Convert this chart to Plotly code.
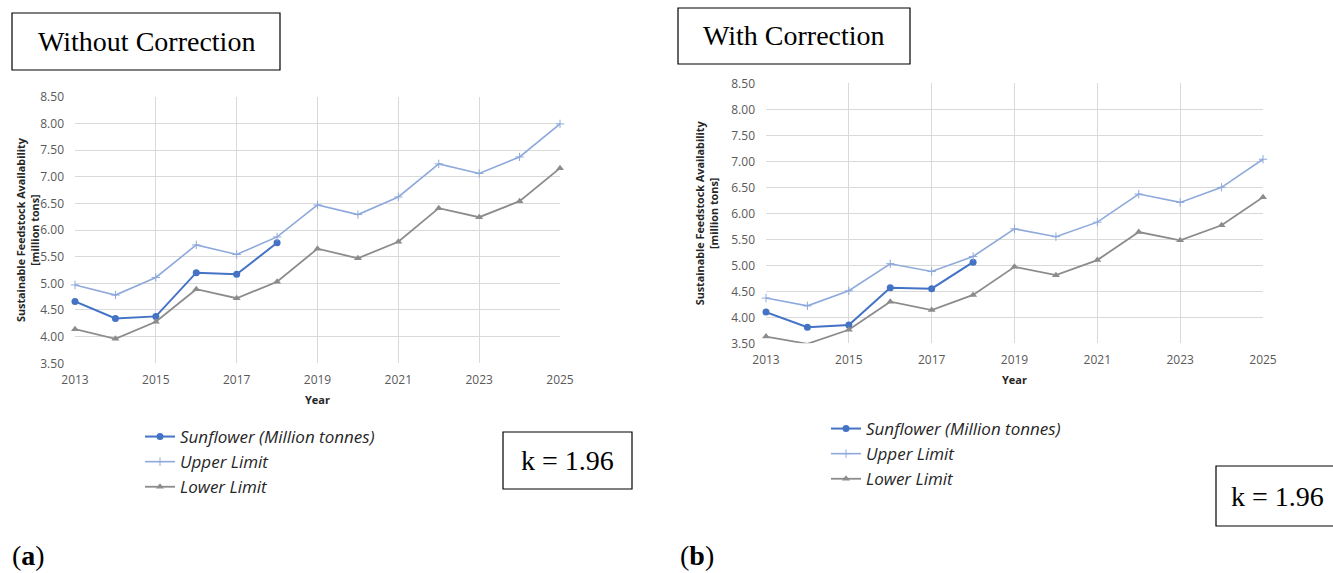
import plotly.graph_objects as go

# ---- data -------------------------------------------------------------
years = list(range(2013, 2026))
sun_years = list(range(2013, 2019))

# (a) without correction
sun_a = [4.66, 4.34, 4.38, 5.20, 5.17, 5.76]
upper_a = [4.97, 4.78, 5.11, 5.72, 5.54, 5.87, 6.47, 6.29, 6.62, 7.24, 7.06, 7.37, 7.99]
lower_a = [4.14, 3.96, 4.28, 4.89, 4.72, 5.03, 5.65, 5.47, 5.78, 6.41, 6.24, 6.54, 7.16]

# (b) with correction
sun_b = [4.10, 3.81, 3.85, 4.57, 4.55, 5.06]
upper_b = [4.37, 4.22, 4.51, 5.03, 4.88, 5.17, 5.70, 5.55, 5.83, 6.37, 6.21, 6.50, 7.04]
lower_b = [3.63, 3.49, 3.76, 4.30, 4.14, 4.43, 4.97, 4.81, 5.10, 5.64, 5.48, 5.77, 6.31]

series_names = ["Sunflower (Million tonnes)", "Upper Limit", "Lower Limit"]
y_ticks = [3.5, 4.0, 4.5, 5.0, 5.5, 6.0, 6.5, 7.0, 7.5, 8.0, 8.5]
x_ticks = [2013, 2015, 2017, 2019, 2021, 2023, 2025]
y_title = "<b>Sustainable Feedstock Availability<br>[million tons]</b>"
x_title = "<b>Year</b>"
panel_titles = ["Without Correction", "With Correction"]
k_label = "k = 1.96"
panel_tags = ["(<b>a</b>)", "(<b>b</b>)"]

W, H = 1333, 573

C_SUN = "#4472C4"
C_UP = "#8EA9DB"
C_LOW = "#8C8C8C"
GRID = "#D9D9D9"
TICK = "#595959"
SANS = "Open Sans, Noto Sans, sans-serif"
SERIF = "Liberation Serif, DejaVu Serif, serif"


def px(x):
    return x / W


def py(y):
    return 1 - y / H


fig = go.Figure()


def add_panel(idx, sun, up, low, legend_name):
    xa = "x" if idx == 0 else "x2"
    ya = "y" if idx == 0 else "y2"
    common = dict(xaxis=xa, yaxis=ya, mode="lines+markers", cliponaxis=False,
                  legend=legend_name)
    fig.add_trace(go.Scatter(x=sun_years, y=sun, name=series_names[0],
                             line=dict(color=C_SUN, width=2),
                             marker=dict(symbol="circle", size=7, color=C_SUN),
                             **common))
    fig.add_trace(go.Scatter(x=years, y=up, name=series_names[1],
                             line=dict(color=C_UP, width=1.6),
                             marker=dict(symbol="cross-thin", size=6,
                                         line=dict(color=C_UP, width=1)),
                             **common))
    fig.add_trace(go.Scatter(x=years, y=low, name=series_names[2],
                             line=dict(color=C_LOW, width=1.8),
                             marker=dict(symbol="triangle-up", size=7, color=C_LOW),
                             **common))


add_panel(0, sun_a, upper_a, lower_a, "legend")
add_panel(1, sun_b, upper_b, lower_b, "legend2")

# plot-area rectangles (pixels): left, top, right, bottom
areas = [(75, 96.7, 560, 363.3), (766, 83.3, 1263, 343.3)]


def axis_pair(area):
    l, t, r, b = area
    xaxis = dict(domain=[px(l), px(r)], range=[2013, 2025], tickvals=x_ticks,
                 showgrid=True, gridcolor=GRID, gridwidth=1.2, zeroline=False,
                 showline=False, ticks="", automargin=False, ticklabelstandoff=8,
                 tickfont=dict(family=SANS, size=12, color=TICK),
                 title=dict(text=x_title, font=dict(family=SANS, size=11, color="#262626"),
                            standoff=9))
    yaxis = dict(domain=[py(b), py(t)], range=[3.5, 8.5], tickvals=y_ticks,
                 tickformat=".2f", showgrid=True, gridcolor=GRID, gridwidth=1.2,
                 zeroline=False, showline=False, ticks="", ticklabelstandoff=10,
                 automargin=False,
                 tickfont=dict(family=SANS, size=12, color=TICK))
    return xaxis, yaxis


xa1, ya1 = axis_pair(areas[0])
xa2, ya2 = axis_pair(areas[1])
ya1["anchor"] = "x"
xa1["anchor"] = "y"
xa2["anchor"] = "y2"
ya2["anchor"] = "x2"

legend_font = dict(family=SANS, size=17, color="#262626", style="italic")

fig.update_layout(
    width=W, height=H, margin=dict(l=0, r=0, t=0, b=0, autoexpand=False),
    paper_bgcolor="white", plot_bgcolor="white",
    xaxis=xa1, yaxis=ya1, xaxis2=xa2, yaxis2=ya2,
    legend=dict(x=px(140), y=py(419), xanchor="left", yanchor="top",
                font=legend_font, itemwidth=30, bgcolor="rgba(0,0,0,0)"),
    legend2=dict(x=px(826), y=py(411), xanchor="left", yanchor="top",
                 font=legend_font, itemwidth=30, bgcolor="rgba(0,0,0,0)"),
)

# rotated y-axis titles, set close to the tick labels
for (l, t, r, b), cx in zip(areas, [28, 706]):
    fig.add_annotation(xref="paper", yref="paper", x=px(cx), y=py((t + b) / 2),
                       text=y_title, textangle=-90, showarrow=False,
                       xanchor="center", yanchor="middle",
                       font=dict(family=SANS, size=10.8, color="#262626"))

# framed labels: (text, left, top, right, bottom, font size)
boxes = [
    (panel_titles[0], 12, 13, 280, 70, 28),
    (panel_titles[1], 678, 8, 910, 64, 28),
    (k_label, 503, 432, 632, 489, 28),
    (k_label, 1216, 466, 1340, 526, 28),
]
for text, l, t, r, b, fs in boxes:
    fig.add_shape(type="rect", xref="paper", yref="paper",
                  x0=px(l), x1=px(r), y0=py(b), y1=py(t),
                  line=dict(color="black", width=1.2), fillcolor="white")
    fig.add_annotation(xref="paper", yref="paper", x=px((l + min(r, W)) / 2 + (3 if r > W else 0)),
                       y=py((t + b) / 2),
                       text=text, showarrow=False, xanchor="center", yanchor="middle",
                       font=dict(family=SERIF, size=fs, color="black"))

for tag, x in zip(panel_tags, [10, 678]):
    fig.add_annotation(xref="paper", yref="paper", x=px(x), y=py(555),
                       text=tag, showarrow=False, xanchor="left", yanchor="middle",
                       font=dict(family=SERIF, size=28, color="black"))

fig.write_html("out.html")
